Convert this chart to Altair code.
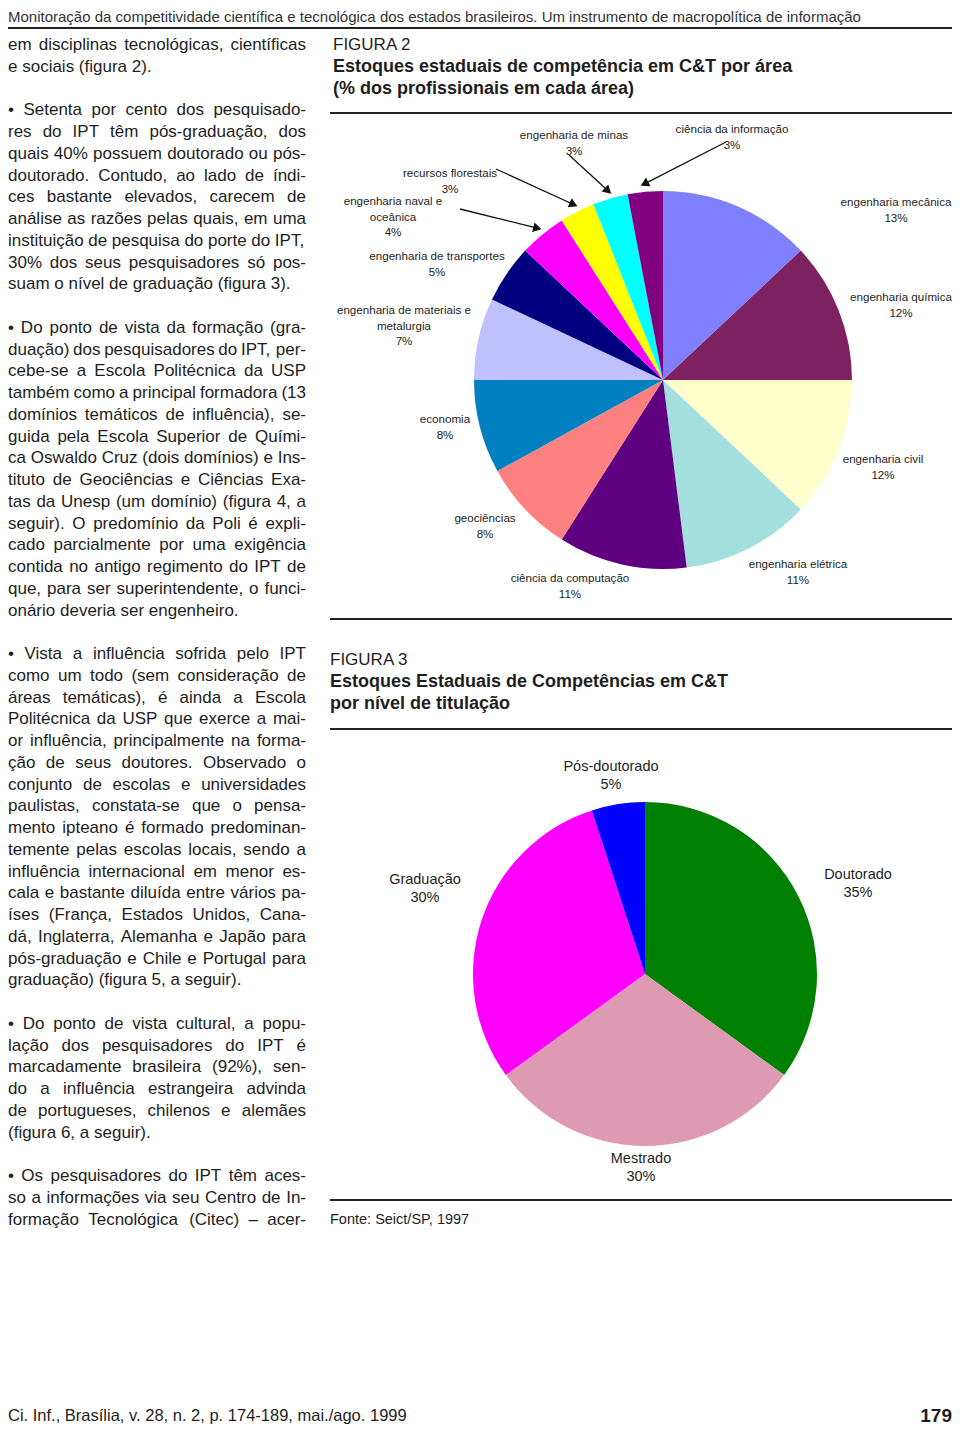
import math
import unicodedata
import altair as alt
import pandas as pd

W, H = 944, 1419
SANS = "Liberation Sans"
INK = "#1e1e1e"

# ---------------- data ----------------
header_text = ("Monitoração da competitividade científica e tecnológica dos estados "
               "brasileiros. Um instrumento de macropolítica de informação")

body_lines = [
    "em disciplinas tecnológicas, científicas",
    "e sociais (figura 2).",
    "",
    "• Setenta por cento dos pesquisado-",
    "res do IPT têm pós-graduação, dos",
    "quais 40% possuem doutorado ou pós-",
    "doutorado. Contudo, ao lado de índi-",
    "ces bastante elevados, carecem de",
    "análise as razões pelas quais, em uma",
    "instituição de pesquisa do porte do IPT,",
    "30% dos seus pesquisadores só pos-",
    "suam o nível de graduação (figura 3).",
    "",
    "• Do ponto de vista da formação (gra-",
    "duação) dos pesquisadores do IPT, per-",
    "cebe-se a Escola Politécnica da USP",
    "também como a principal formadora (13",
    "domínios temáticos de influência), se-",
    "guida pela Escola Superior de Quími-",
    "ca Oswaldo Cruz (dois domínios) e Ins-",
    "tituto de Geociências e Ciências Exa-",
    "tas da Unesp (um domínio) (figura 4, a",
    "seguir). O predomínio da Poli é expli-",
    "cado parcialmente por uma exigência",
    "contida no antigo regimento do IPT de",
    "que, para ser superintendente, o funci-",
    "onário deveria ser engenheiro.",
    "",
    "• Vista a influência sofrida pelo IPT",
    "como um todo (sem consideração de",
    "áreas temáticas), é ainda a Escola",
    "Politécnica da USP que exerce a mai-",
    "or influência, principalmente na forma-",
    "ção de seus doutores. Observado o",
    "conjunto de escolas e universidades",
    "paulistas, constata-se que o pensa-",
    "mento ipteano é formado predominan-",
    "temente pelas escolas locais, sendo a",
    "influência internacional em menor es-",
    "cala e bastante diluída entre vários pa-",
    "íses (França, Estados Unidos, Cana-",
    "dá, Inglaterra, Alemanha e Japão para",
    "pós-graduação e Chile e Portugal para",
    "graduação) (figura 5, a seguir).",
    "",
    "• Do ponto de vista cultural, a popu-",
    "lação dos pesquisadores do IPT é",
    "marcadamente brasileira (92%), sen-",
    "do a influência estrangeira advinda",
    "de portugueses, chilenos e alemães",
    "(figura 6, a seguir).",
    "",
    "• Os pesquisadores do IPT têm aces-",
    "so a informações via seu Centro de In-",
    "formação Tecnológica (Citec) – acer-",
]
# lines that end a paragraph (not justified); the last line here continues on next page
paragraph_ends = {1, 11, 26, 43, 50}

fig2_label = "FIGURA 2"
fig2_title = ["Estoques estaduais de competência em C&T por área",
              "(% dos profissionais em cada área)"]
areas = ["engenharia mecânica", "engenharia química", "engenharia civil",
         "engenharia elétrica", "ciência da computação", "geociências", "economia",
         "engenharia de materiais e metalurgia", "engenharia de transportes",
         "engenharia naval e oceânica", "recursos florestais", "engenharia de minas",
         "ciência da informação"]
area_pct = [13, 12, 12, 11, 11, 8, 8, 7, 5, 4, 3, 3, 3]
area_label_lines = [["engenharia mecânica"], ["engenharia química"], ["engenharia civil"],
                    ["engenharia elétrica"], ["ciência da computação"], ["geociências"],
                    ["economia"], ["engenharia de materiais e", "metalurgia"],
                    ["engenharia de transportes"], ["engenharia naval e", "oceânica"],
                    ["recursos florestais"], ["engenharia de  minas"],
                    ["ciência da informação"]]
arrowed_areas = ["engenharia naval e oceânica", "recursos florestais",
                 "engenharia de minas", "ciência da informação"]

fig3_label = "FIGURA 3"
fig3_title = ["Estoques Estaduais de Competências em C&T", "por nível de titulação"]
levels = ["Doutorado", "Mestrado", "Graduação", "Pós-doutorado"]
level_pct = [35, 30, 30, 5]
source_text = "Fonte: Seict/SP, 1997"

footer_left = "Ci. Inf., Brasília, v. 28, n. 2, p. 174-189, mai./ago. 1999"
footer_page = "179"

# ---------------- styles / layout ----------------
area_colors = ["#8080FF", "#7E2160", "#FFFFCC", "#A4DFE0", "#5E0080", "#FF8080",
               "#0080C0", "#C0C0FF", "#000080", "#FF00FF", "#FFFF00", "#00FFFF",
               "#800080"]
level_colors = ["#008000", "#DE9AB2", "#FF00FF", "#0000FF"]

PIE1 = (655, 372, 189)
PIE2 = (637, 966, 172)
area_label_pos = [(888, 195), (893, 290), (875, 452), (790, 557), (562, 571),
                  (477, 511), (437, 412), (396, 303), (429, 249), (385, 194),
                  (442, 166), (566, 128), (724, 122)]
arrow_start = {"engenharia naval e oceânica": (452, 201), "recursos florestais": (488, 161),
               "engenharia de minas": (561, 147), "ciência da informação": (718, 134)}
level_label_pos = [(850, 867), (633, 1151), (417, 872), (603, 759)]

BODY_SIZE = 17
COL_W = 298
LINE_H = 21.75

# Arial / Liberation Sans advance widths (1/1000 em), used to justify the text column
_W = {" ": 278, "!": 278, "(": 333, ")": 333, ",": 278, "-": 333, ".": 278, "/": 278,
      ":": 278, "%": 889, "&": 667, "•": 350, "–": 556,
      "a": 556, "b": 556, "c": 500, "d": 556, "e": 556, "f": 278, "g": 556, "h": 556,
      "i": 222, "j": 222, "k": 500, "l": 222, "m": 833, "n": 556, "o": 556, "p": 556,
      "q": 556, "r": 333, "s": 500, "t": 278, "u": 556, "v": 500, "w": 722, "x": 500,
      "y": 500, "z": 500,
      "A": 667, "B": 667, "C": 722, "D": 722, "E": 667, "F": 611, "G": 778, "H": 722,
      "I": 278, "J": 500, "K": 667, "L": 556, "M": 833, "N": 722, "O": 778, "P": 667,
      "Q": 778, "R": 722, "S": 667, "T": 611, "U": 722, "V": 667, "W": 944, "X": 667,
      "Y": 667, "Z": 611}


def char_w(ch):
    if ch in _W:
        return _W[ch]
    if ch.isdigit():
        return 556
    if ch in "íìîïÍ":
        return 278
    base = unicodedata.normalize("NFD", ch)[0]
    return _W.get(base, 556)


def word_w(s, size):
    return sum(char_w(c) for c in s) / 1000 * size


def text_layer(df, size, weight="normal", align="left", color=INK, baseline="middle"):
    return alt.Chart(df).mark_text(
        fontSize=size, fontWeight=weight, align=align, font=SANS, color=color,
        baseline=baseline
    ).encode(
        x=alt.X("x:Q", scale=None, axis=None),
        y=alt.Y("y:Q", scale=None, axis=None),
        text="t:N",
    )


layers = []

# header
layers.append(text_layer(pd.DataFrame([{"t": header_text, "x": 0, "y": 2}]), 15,
                         color="#333333", baseline="top"))

# horizontal rules
rules = pd.DataFrame([
    {"x": 0, "x2": W, "y": 20, "y2": 20},
    {"x": 322, "x2": W, "y": 105, "y2": 105},
    {"x": 322, "x2": W, "y": 611, "y2": 611},
    {"x": 322, "x2": W, "y": 721, "y2": 721},
    {"x": 322, "x2": W, "y": 1192, "y2": 1192},
])
layers.append(alt.Chart(rules).mark_rule(strokeWidth=2.2, color="#222").encode(
    x=alt.X("x:Q", scale=None, axis=None), x2="x2:Q",
    y=alt.Y("y:Q", scale=None, axis=None), y2="y2:Q"))

# body text, justified word by word
body_rows = []
for k, line in enumerate(body_lines):
    if not line:
        continue
    y = 37 + LINE_H * k
    words = line.split(" ")
    widths = [word_w(w, BODY_SIZE) for w in words]
    if k in paragraph_ends or len(words) == 1:
        gap = word_w(" ", BODY_SIZE)
    else:
        gap = (COL_W - sum(widths)) / (len(words) - 1)
    x = 0.0
    for w, ww in zip(words, widths):
        body_rows.append({"t": w, "x": x, "y": y})
        x += ww + gap
layers.append(text_layer(pd.DataFrame(body_rows), BODY_SIZE))

# figure titles
layers.append(text_layer(pd.DataFrame([{"t": fig2_label, "x": 325, "y": 37},
                                       {"t": fig3_label, "x": 322, "y": 652}]), 17))
title_rows = [{"t": fig2_title[0], "x": 325, "y": 59}, {"t": fig2_title[1], "x": 325, "y": 81},
              {"t": fig3_title[0], "x": 322, "y": 674}, {"t": fig3_title[1], "x": 322, "y": 696}]
layers.append(text_layer(pd.DataFrame(title_rows), 18, weight="bold"))
layers.append(text_layer(pd.DataFrame([{"t": source_text, "x": 322, "y": 1212}]), 14.5))

# pie 1
pie1_df = pd.DataFrame({"area": areas, "pct": area_pct, "ord": list(range(len(areas)))})
layers.append(alt.Chart(pie1_df).mark_arc(radius=PIE1[2]).encode(
    theta=alt.Theta("pct:Q", stack=True),
    order=alt.Order("ord:Q"),
    color=alt.Color("area:N", scale=alt.Scale(domain=areas, range=area_colors), legend=None),
    x=alt.value(PIE1[0]), y=alt.value(PIE1[1]),
))

lab1 = []
for name, lines, pct, (lx, ly) in zip(areas, area_label_lines, area_pct, area_label_pos):
    for j, s in enumerate(lines + [f"{pct}%"]):
        lab1.append({"t": s, "x": lx, "y": ly + 15.5 * j})
layers.append(text_layer(pd.DataFrame(lab1), 11.6, align="center"))

# arrows toward the small slices (tips derived from slice mid-angles)
arrows = []
cum = 0
for name, pct in zip(areas, area_pct):
    mid = math.radians((cum + pct / 2) / 100 * 360)
    cum += pct
    if name in arrowed_areas:
        sx, sy = arrow_start[name]
        rr = PIE1[2] + 8
        tx = PIE1[0] + rr * math.sin(mid)
        ty = PIE1[1] - rr * math.cos(mid)
        ang = math.degrees(math.atan2(tx - sx, -(ty - sy))) % 360
        arrows.append({"x": sx, "y": sy, "x2": tx, "y2": ty, "ang": ang})
arrows = pd.DataFrame(arrows)
layers.append(alt.Chart(arrows).mark_rule(strokeWidth=1.3, color="#111").encode(
    x=alt.X("x:Q", scale=None, axis=None), x2="x2:Q",
    y=alt.Y("y:Q", scale=None, axis=None), y2="y2:Q"))
layers.append(alt.Chart(arrows).mark_point(shape="triangle-up", filled=True, size=95,
                                            color="#111", opacity=1).encode(
    x=alt.X("x2:Q", scale=None, axis=None),
    y=alt.Y("y2:Q", scale=None, axis=None),
    angle=alt.Angle("ang:Q", scale=None),
))

# pie 2
pie2_df = pd.DataFrame({"nivel": levels, "pct": level_pct, "ord": list(range(len(levels)))})
layers.append(alt.Chart(pie2_df).mark_arc(radius=PIE2[2]).encode(
    theta=alt.Theta("pct:Q", stack=True),
    order=alt.Order("ord:Q"),
    color=alt.Color("nivel:N", scale=alt.Scale(domain=levels, range=level_colors), legend=None),
    x=alt.value(PIE2[0]), y=alt.value(PIE2[1]),
))
lab2 = []
for name, pct, (lx, ly) in zip(levels, level_pct, level_label_pos):
    lab2.append({"t": name, "x": lx, "y": ly})
    lab2.append({"t": f"{pct}%", "x": lx, "y": ly + 17.5})
layers.append(text_layer(pd.DataFrame(lab2), 14.5, align="center"))

# footer
layers.append(text_layer(pd.DataFrame([{"t": footer_left, "x": 0, "y": 1408}]), 16.5))
layers.append(text_layer(pd.DataFrame([{"t": footer_page, "x": W, "y": 1408}]), 19,
                         weight="bold", align="right"))

chart = alt.layer(*layers).resolve_scale(
    theta="independent", color="independent"
).properties(
    width=W, height=H, padding=0, autosize="none", background="white"
).configure_view(stroke=None)

chart.save("out.html", embed_options={"renderer": "svg", "actions": False})
